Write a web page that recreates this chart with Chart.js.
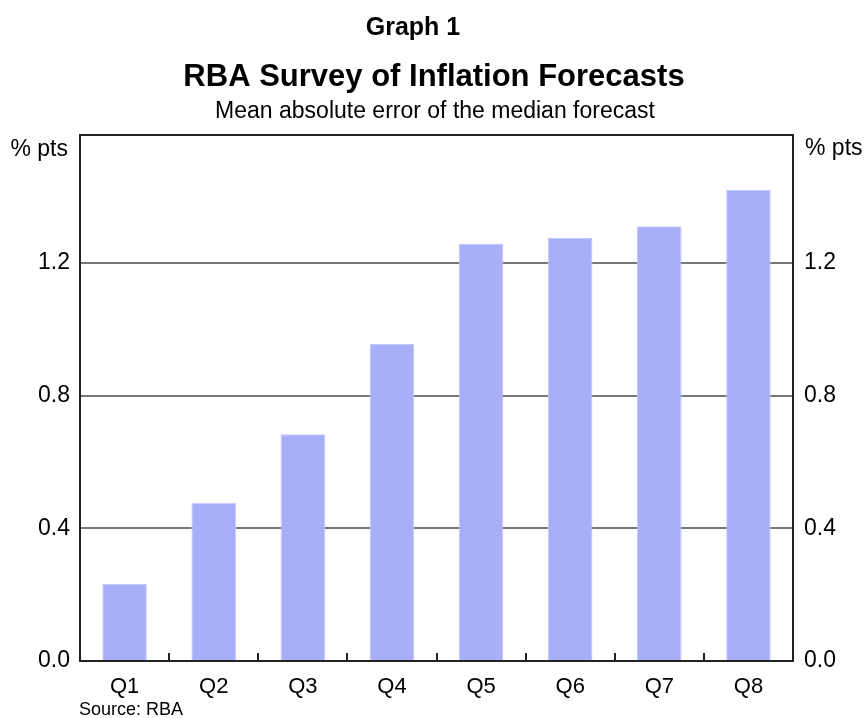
<!DOCTYPE html>
<html>
<head>
<meta charset="utf-8">
<script src="https://cdn.jsdelivr.net/npm/chart.js@4"></script>
<style>
  html, body { margin: 0; padding: 0; background: #fff; }
  #wrap { width: 866px; height: 718px; }
</style>
</head>
<body>
<div id="wrap"><canvas id="graph1"></canvas></div>
<script>
// data
var quarters = ["Q1", "Q2", "Q3", "Q4", "Q5", "Q6", "Q7", "Q8"];
var meanAbsError = [0.232, 0.477, 0.683, 0.955, 1.257, 1.275, 1.310, 1.420];
var yTicks = [0, 0.4, 0.8, 1.2];

var FONT = "'Liberation Sans', Arial, sans-serif";

// titles, unit labels, frame and small x tick marks
var decorations = {
    id: 'decorations',
    afterDatasetsDraw: function(chart) {
        var ctx = chart.ctx;
        var area = chart.chartArea;
        var x = chart.scales.x;
        ctx.save();

        // x-axis tick marks between categories, pointing up
        ctx.strokeStyle = '#222';
        ctx.lineWidth = 2;
        for (var i = 1; i < quarters.length; i++) {
            var px = Math.round((x.getPixelForTick(i - 1) + x.getPixelForTick(i)) / 2);
            ctx.beginPath();
            ctx.moveTo(px, area.bottom);
            ctx.lineTo(px, area.bottom - 8);
            ctx.stroke();
        }

        // frame
        ctx.strokeRect(area.left, area.top, area.right - area.left, area.bottom - area.top);

        ctx.fillStyle = '#000';
        ctx.textBaseline = 'middle';
        ctx.textAlign = 'center';
        ctx.font = 'bold 25px ' + FONT;
        ctx.fillText('Graph 1', 413, 28);
        ctx.font = 'bold 31px ' + FONT;
        ctx.fillText('RBA Survey of Inflation Forecasts', 434, 77);
        ctx.font = '23px ' + FONT;
        ctx.fillText('Mean absolute error of the median forecast', 435, 112);

        ctx.font = '23px ' + FONT;
        ctx.textAlign = 'right';
        ctx.fillText('% pts', 68, 150);
        ctx.textAlign = 'left';
        ctx.fillText('% pts', 805, 149);

        ctx.font = '18px ' + FONT;
        ctx.fillText('Source: RBA', 79, 710);
        ctx.restore();
    }
};

function keepTicks(scale) {
    scale.ticks = yTicks.map(function(v) { return { value: v }; });
}

var graph = new Chart(document.getElementById("graph1"), {
    type: 'bar',
    data: {
        labels: quarters,
        datasets: [{
            data: meanAbsError,
            backgroundColor: '#A8AEF8',
            borderColor: '#C4C8FB',
            borderWidth: 1,
            categoryPercentage: 1.0,
            barPercentage: 0.5
        }]
    },
    options: {
        responsive: true,
        maintainAspectRatio: false,
        animation: false,
        layout: { padding: { top: 135, left: 0, right: 0, bottom: 0 } },
        plugins: {
            legend: { display: false },
            tooltip: { enabled: false },
            title: { display: false }
        },
        scales: {
            x: {
                grid: { display: false },
                border: { display: false },
                ticks: {
                    color: '#000',
                    font: { family: FONT, size: 22 },
                    padding: 5,
                    maxRotation: 0
                },
                afterFit: function(s) { s.height = 57; }
            },
            y: {
                position: 'left',
                min: 0,
                max: 1.585,
                afterBuildTicks: keepTicks,
                grid: { color: '#777', lineWidth: 2, drawTicks: false },
                border: { display: false },
                ticks: {
                    color: '#000',
                    font: { family: FONT, size: 23 },
                    padding: 10,
                    callback: function(v) { return Number(v).toFixed(1); }
                },
                afterFit: function(s) { s.width = 80; }
            },
            y2: {
                position: 'right',
                min: 0,
                max: 1.585,
                afterBuildTicks: keepTicks,
                grid: { display: false, drawTicks: false },
                border: { display: false },
                ticks: {
                    color: '#000',
                    font: { family: FONT, size: 23 },
                    padding: 11,
                    callback: function(v) { return Number(v).toFixed(1); }
                },
                afterFit: function(s) { s.width = 73; }
            }
        }
    },
    plugins: [decorations]
});
</script>
</body>
</html>
